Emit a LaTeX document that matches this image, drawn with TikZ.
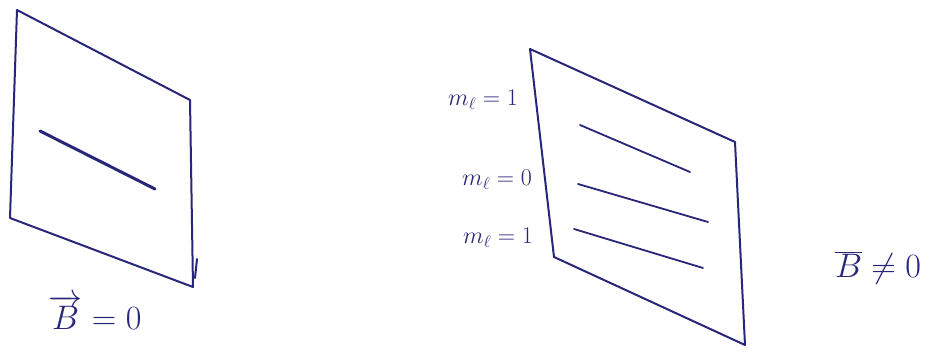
\RequirePackage{fix-cm}
\documentclass[tikz,border=0pt]{standalone}
\usetikzlibrary{positioning}
\begin{document}
\begin{tikzpicture}[x=1pt,y=-1pt,line cap=round,line join=round]
  \definecolor{ink}{RGB}{40,38,120}
  \tikzset{
    pen/.style={draw=ink,line width=2pt},
    level/.style={draw=ink,line width=1.8pt},
    hand/.style={text=ink,inner sep=0pt},
    small hand/.style={hand,font=\fontsize{24}{26}\selectfont,anchor=east},
    big hand/.style={hand,font=\fontsize{34}{38}\selectfont}
  }
  \useasboundingbox (0,0) rectangle (943,358);

  %% left panel: no field, one line
  \draw[pen] (17,10) -- (190,100) -- (193,287) -- (10,218) -- cycle;
  \draw[pen] (197,259) -- (195,278);
  \draw[level,line width=3pt] (40,131) -- (155,189);
  \node[big hand] (bzero) at (95,312) {$\overrightarrow{B}=0$};

  %% right panel: field on, three lines
  \draw[pen] (530,49) -- (735,142) -- (745,345) -- (554,257) -- cycle;
  \draw[level] (580,125) -- (690,172);
  \draw[level] (578,184) -- (708,222);
  \draw[level] (574,229) -- (703,268);
  \node[small hand] (mtop) at (518,100) {$m_\ell=1$};
  \node[small hand] (mmid) at (532,180) {$m_\ell=0$};
  \node[small hand] (mbot) at (533,238) {$m_\ell=1$};
  \node[big hand] (bnonzero) at (878,268) {$\overline{B}\neq0$};
\end{tikzpicture}
\end{document}
